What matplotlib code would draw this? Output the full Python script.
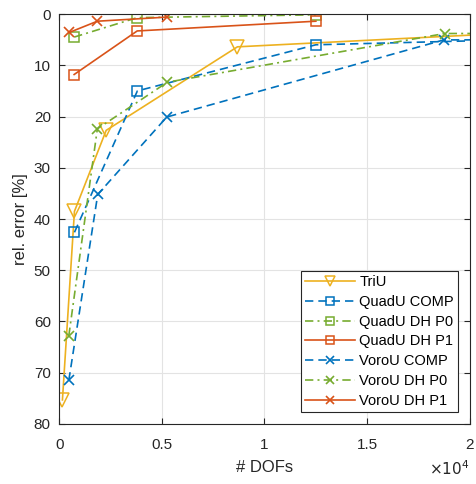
import numpy as np
import matplotlib
matplotlib.use("Agg")
import matplotlib.pyplot as plt

plt.rcParams['font.family'] = ['Liberation Sans', 'DejaVu Sans']

# data (x = DOFs, y = rel. error in %)
tri_x = [160, 745, 2290, 8680, 34000]
tri_y = [75.3, 38.5, 22.7, 6.4, 1.3]

quad_comp_x = [745, 3810, 12500, 50000]
quad_comp_y = [42.6, 15.0, 6.0, 2.2]

quad_p0_x = [730, 3800, 12500]
quad_p0_y = [4.5, 0.7, 0.15]

quad_p1_x = [730, 3800, 12500]
quad_p1_y = [11.8, 3.3, 1.4]

voro_comp_x = [470, 1880, 5240, 18730, 40000]
voro_comp_y = [71.5, 35.2, 20.1, 5.05, 4.9]

voro_p0_x = [470, 1860, 5270, 18780, 40000]
voro_p0_y = [62.8, 22.4, 13.3, 3.8, 3.7]

voro_p1_x = [490, 1860, 5240]
voro_p1_y = [3.6, 1.4, 0.6]

xticks = [0, 5000, 10000, 15000, 20000]
xticklabels = ['0', '0.5', '1', '1.5', '2']
yticks = [0, 10, 20, 30, 40, 50, 60, 70, 80]

blue = '#0072BD'
orange = '#D95319'
yellow = '#EDB120'
green = '#77AC30'

fig = plt.figure(figsize=(4.77, 4.84), dpi=100)
ax = fig.add_axes([0.124, 0.124, 0.861, 0.847])

lw = 1.2
dash = (0, (5, 3))
dashdot = (0, (5, 2.5, 1.2, 2.5))
ax.plot(tri_x, tri_y, '-', color=yellow, lw=lw, marker='v', ms=10, mfc='none', mew=1.1, label='TriU')
ax.plot(quad_comp_x, quad_comp_y, ls=dash, color=blue, lw=lw, marker='s', ms=7.5, mfc='none', mew=1.1, label='QuadU COMP')
ax.plot(quad_p0_x, quad_p0_y, ls=dashdot, color=green, lw=lw, marker='s', ms=7.5, mfc='none', mew=1.1, label='QuadU DH P0')
ax.plot(quad_p1_x, quad_p1_y, '-', color=orange, lw=lw, marker='s', ms=7.5, mfc='none', mew=1.1, label='QuadU DH P1')
ax.plot(voro_comp_x, voro_comp_y, ls=dash, color=blue, lw=lw, marker='x', ms=7, mew=1.2, label='VoroU COMP')
ax.plot(voro_p0_x, voro_p0_y, ls=dashdot, color=green, lw=lw, marker='x', ms=7, mew=1.2, label='VoroU DH P0')
ax.plot(voro_p1_x, voro_p1_y, '-', color=orange, lw=lw, marker='x', ms=7, mew=1.2, label='VoroU DH P1')

ax.set_xlim(0, 20000)
ax.set_ylim(80, 0)
ax.set_xticks(xticks)
ax.set_xticklabels(xticklabels)
ax.set_yticks(yticks)
ax.grid(True, color='#e3e3e3', lw=0.8)
ax.set_axisbelow(True)
ax.tick_params(direction='in', top=True, right=True, labelsize=11, colors='#262626', length=4)
ax.tick_params(axis='x', pad=10)
ax.tick_params(axis='y', pad=6)
for s in ax.spines.values():
    s.set_color('#262626')
    s.set_linewidth(0.8)

ax.set_xlabel('# DOFs', fontsize=12, color='#262626', labelpad=6)
ax.set_ylabel('rel. error [%]', fontsize=12, color='#262626', labelpad=4)
ax.text(1.0, -0.085, r'$\times10^4$', transform=ax.transAxes, ha='right', va='top',
        fontsize=11, color='#262626')

leg = ax.legend(loc='lower right', fontsize=10.5, handlelength=3.4, fancybox=False,
                framealpha=1, edgecolor='#262626', borderaxespad=0.8,
                labelspacing=0.4, borderpad=0.3, handletextpad=0.3, markerscale=0.75)
leg.get_frame().set_linewidth(0.8)

fig.savefig('out.png', dpi=100)
